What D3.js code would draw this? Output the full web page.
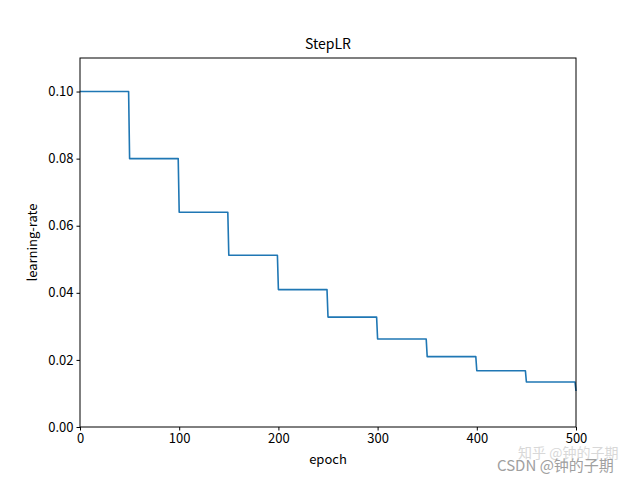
<!DOCTYPE html>
<html><head><meta charset="utf-8">
<script src="https://cdn.jsdelivr.net/npm/d3@7"></script>
<style>body{margin:0;background:#fff}svg{display:block}text{font-family:"Noto Sans CJK SC","DejaVu Sans",sans-serif}</style>
</head><body>
<svg id="c" width="640" height="480"></svg>
<script>
// Data
const levelStarts = [0, 50, 100, 150, 200, 250, 300, 350, 400, 450, 500];
const lrValues = [0.1, 0.08, 0.064, 0.0512, 0.04096, 0.032768, 0.026214, 0.020972, 0.016777, 0.013422, 0.010737];
const xTicks = [0, 100, 200, 300, 400, 500];
const yTicks = [0.00, 0.02, 0.04, 0.06, 0.08, 0.10];
const title = "StepLR", xLabel = "epoch", yLabel = "learning-rate";

const m = {l: 80, r: 64, t: 58, b: 53};
const W = 640, H = 480;
const svg = d3.select("#c");
const x = d3.scaleLinear().domain([0, 500]).range([m.l, W - m.r]);
const y = d3.scaleLinear().domain([0, 0.11]).range([H - m.b, m.t]);

// build step points
const pts = [];
levelStarts.forEach((s, i) => {
  pts.push([s, lrValues[i]]);
  if (i < levelStarts.length - 1) pts.push([levelStarts[i + 1] - 1, lrValues[i]]);
});

const line = d3.line().x(d => x(d[0])).y(d => y(d[1]));
svg.append("path").datum(pts).attr("d", line).attr("fill", "none")
  .attr("stroke", "#1f77b4").attr("stroke-width", 1.6).attr("stroke-linejoin", "round");

// frame
svg.append("rect").attr("x", m.l).attr("y", m.t).attr("width", W - m.l - m.r).attr("height", H - m.t - m.b)
  .attr("fill", "none").attr("stroke", "#000").attr("stroke-width", 1);

const xa = svg.append("g").attr("transform", `translate(0,${H - m.b})`)
  .call(d3.axisBottom(x).tickValues(xTicks).tickSize(3.5).tickPadding(3).tickFormat(d3.format("d")));
const ya = svg.append("g").attr("transform", `translate(${m.l},0)`)
  .call(d3.axisLeft(y).tickValues(yTicks).tickSize(3.5).tickPadding(3).tickFormat(d3.format(".2f")));
[xa, ya].forEach(g => {
  g.select(".domain").remove();
  g.selectAll("line").attr("stroke", "#000");
  g.selectAll("text").attr("font-size", 13).attr("fill", "#000")
    .attr("font-family", '"Noto Sans CJK SC", sans-serif');
});

svg.append("text").attr("x", (m.l + W - m.r) / 2).attr("y", 49).attr("text-anchor", "middle")
  .attr("font-size", 14).text(title);
svg.append("text").attr("x", (m.l + W - m.r) / 2).attr("y", 464).attr("text-anchor", "middle")
  .attr("font-size", 13).text(xLabel);
svg.append("text").attr("transform", `translate(37,${(m.t + H - m.b) / 2}) rotate(-90)`)
  .attr("text-anchor", "middle").attr("font-size", 13).text(yLabel);

// watermark
svg.append("text").attr("x", 518).attr("y", 458).attr("font-size", 14).attr("fill", "#d8d8d8").text("知乎 @钟的子期");
svg.append("text").attr("x", 497).attr("y", 471).attr("font-size", 15).attr("fill", "#a0a0a0").text("CSDN @钟的子期");
</script>
</body></html>
